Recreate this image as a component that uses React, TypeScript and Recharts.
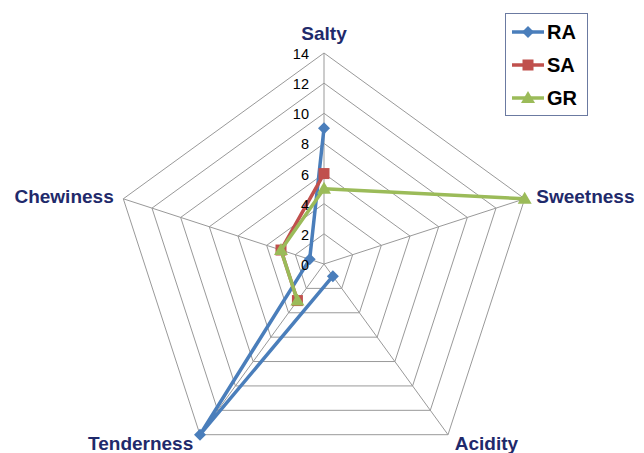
import React from 'react';
import { RadarChart, Radar, PolarGrid, PolarAngleAxis, PolarRadiusAxis, Legend } from 'recharts';

// attributes in clockwise order starting from the top
const attributes = ['Salty', 'Sweetness', 'Acidity', 'Tenderness', 'Chewiness'];
// empty cells show as gaps in the line
const raValues = [9, null, 1, 14, 1];
const saValues = [6, null, null, 3, 3];
const grValues = [5, 14, null, 3, 3];
const radiusTicks = [0, 2, 4, 6, 8, 10, 12, 14];

const data = attributes.map((attr, i) => ({
  attr,
  RA: raValues[i],
  SA: saValues[i],
  GR: grValues[i],
}));

const FONT = '"Liberation Sans", Arial, sans-serif';
const NAVY = '#1f2a6b';

const series = [
  { key: 'RA', color: '#4a7ebb', marker: 'diamond' },
  { key: 'SA', color: '#c0504d', marker: 'square' },
  { key: 'GR', color: '#9bbb59', marker: 'triangle' },
];

function Marker({ x, y, type, color }: { x: number; y: number; type: string; color: string }) {
  if (type === 'diamond') {
    return <path d={`M${x},${y - 6}L${x + 6},${y}L${x},${y + 6}L${x - 6},${y}Z`} fill={color} />;
  }
  if (type === 'square') {
    return <rect x={x - 5.5} y={y - 5.5} width={11} height={11} fill={color} />;
  }
  return <path d={`M${x},${y - 7}L${x + 7},${y + 5}L${x - 7},${y + 5}Z`} fill={color} />;
}

// polyline with gaps where a value is missing, plus markers
const makeShape = (key: string, color: string, marker: string) => (props: any) => {
  const pts = props.points || [];
  const ok = (p: any) => p && p.payload && p.payload[key] != null;
  const segs: string[] = [];
  for (let i = 0; i < pts.length; i++) {
    const a = pts[i];
    const b = pts[(i + 1) % pts.length];
    if (ok(a) && ok(b)) segs.push(`M${a.x},${a.y}L${b.x},${b.y}`);
  }
  return (
    <g>
      <path d={segs.join('')} stroke={color} strokeWidth={3.5} fill="none" strokeLinejoin="round" />
      {pts.filter(ok).map((p: any, i: number) => (
        <Marker key={i} x={p.x} y={p.y} type={marker} color={color} />
      ))}
    </g>
  );
};

const labelOffsets: Record<string, { dx: number; dy: number; anchor: string }> = {
  Salty: { dx: 0, dy: -5, anchor: 'middle' },
  Sweetness: { dx: 4, dy: 6.5, anchor: 'start' },
  Acidity: { dx: 2, dy: 8.5, anchor: 'start' },
  Tenderness: { dx: -2, dy: 8.5, anchor: 'end' },
  Chewiness: { dx: -2, dy: 6.5, anchor: 'end' },
};

function AngleTick(props: any) {
  const { x, y, payload } = props;
  const o = labelOffsets[payload.value] || { dx: 0, dy: 0, anchor: 'middle' };
  return (
    <text x={x + o.dx} y={y + o.dy} textAnchor={o.anchor} fontFamily={FONT} fontWeight="bold" fontSize={19} fill={NAVY}>
      {payload.value}
    </text>
  );
}

function RadiusTick(props: any) {
  const { x, y, payload } = props;
  return (
    <text x={x - 15} y={y + 1} textAnchor="end" dominantBaseline="central" fontFamily={FONT} fontSize={14.5} fill="#000">
      {payload.value}
    </text>
  );
}

function LegendBox() {
  return (
    <div style={{ width: 81, height: 101, border: '1px solid #6b7aa1', background: '#fff', fontFamily: FONT }}>
      {series.map((s, i) => (
        <div key={s.key} style={{ position: 'absolute', left: 6, top: 8 + i * 33, height: 22, display: 'flex', alignItems: 'center' }}>
          <svg width={34} height={22}>
            <line x1={1} y1={11} x2={33} y2={11} stroke={s.color} strokeWidth={3.5} />
            <Marker x={17} y={11} type={s.marker} color={s.color} />
          </svg>
          <span style={{ fontWeight: 'bold', fontSize: 20, color: '#000', marginLeft: 2, lineHeight: '22px' }}>{s.key}</span>
        </div>
      ))}
    </div>
  );
}

export default function App() {
  return (
    <div style={{ position: 'absolute', left: 0, top: 0, width: 644, height: 453, background: '#fff' }}>
      <RadarChart
        width={644}
        height={453}
        data={data}
        cx={324}
        cy={264}
        outerRadius={211}
        margin={{ top: 0, right: 0, bottom: 0, left: 0 }}
      >
        <PolarGrid gridType="polygon" stroke="#999999" strokeWidth={1} />
        <PolarAngleAxis dataKey="attr" tick={<AngleTick />} tickLine={false} axisLine={false} />
        <PolarRadiusAxis
          angle={90}
          domain={[0, 14]}
          ticks={radiusTicks}
          tickCount={8}
          axisLine={false}
          tickLine={false}
          tick={<RadiusTick />}
        />
        {series.map((s) => (
          <Radar
            key={s.key}
            dataKey={s.key}
            name={s.key}
            stroke={s.color}
            fill="none"
            isAnimationActive={false}
            shape={makeShape(s.key, s.color, s.marker)}
          />
        ))}
        <Legend
          layout="vertical"
          align="center"
          verticalAlign="middle"
          content={() => <LegendBox />}
          wrapperStyle={{ top: 13, left: 505, width: 83, height: 103 }}
        />
      </RadarChart>
    </div>
  );
}
